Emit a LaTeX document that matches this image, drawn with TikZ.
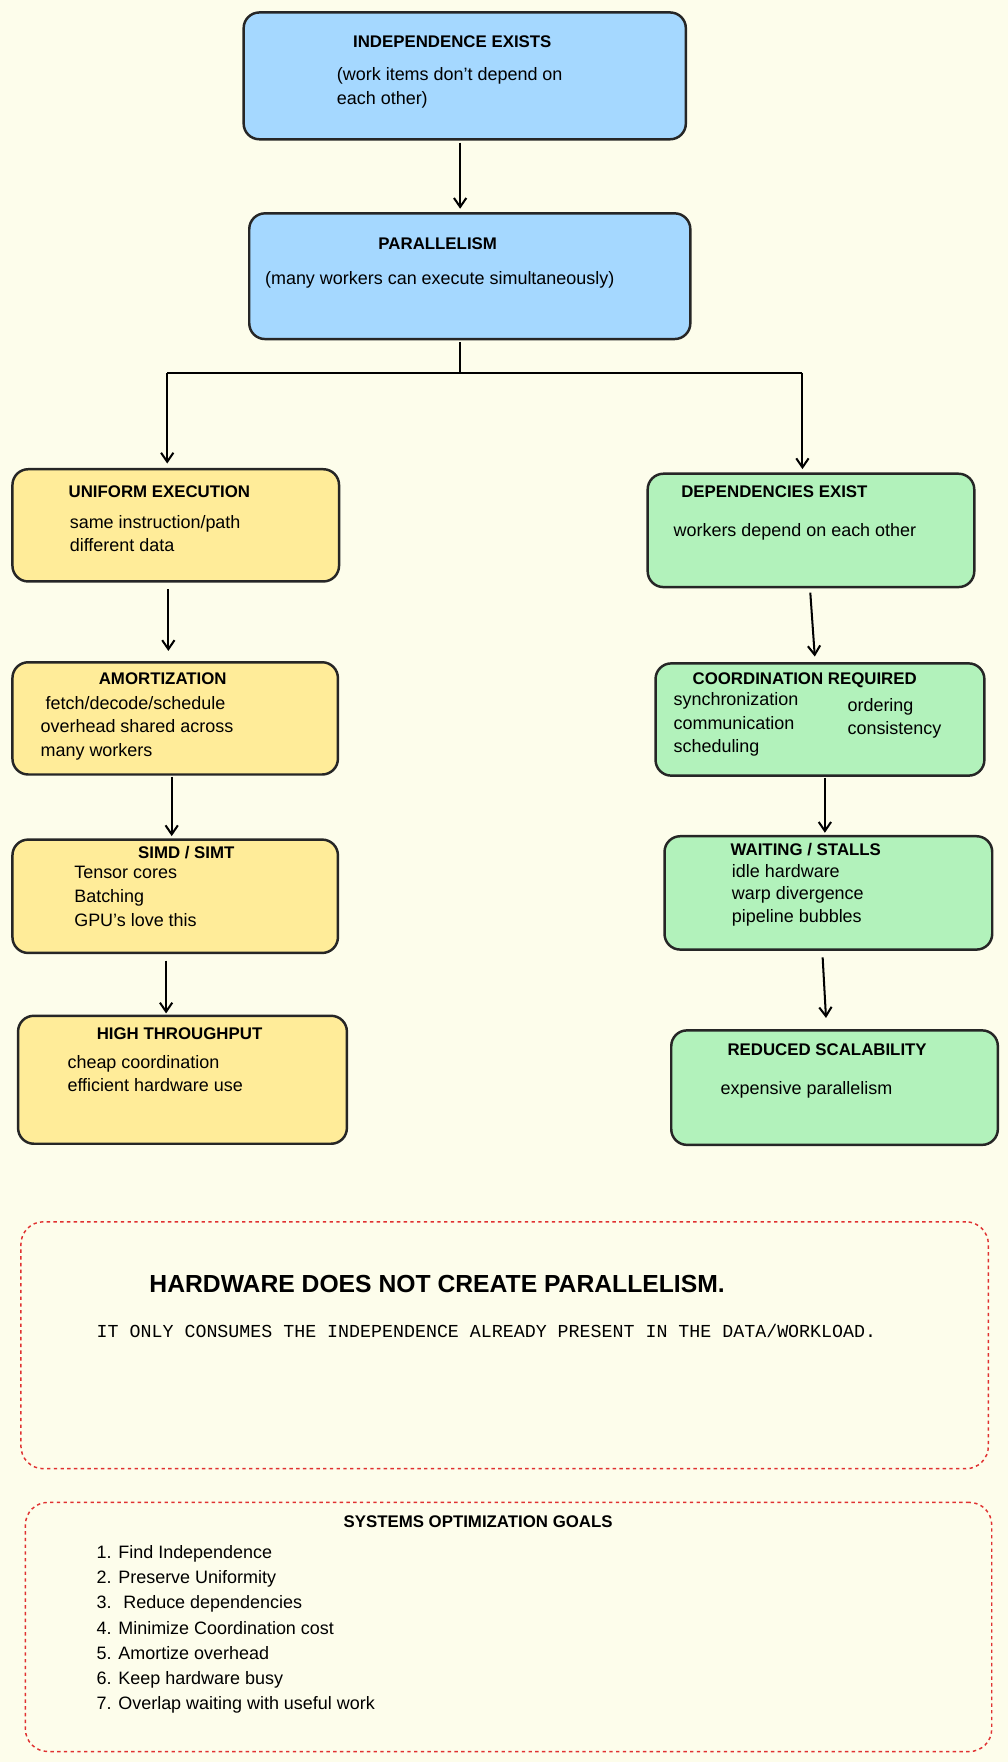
\documentclass[tikz,border=0pt]{standalone}
\usepackage{fontspec}
\setmainfont{Liberation Sans}
\setmonofont{Liberation Mono}
\usetikzlibrary{arrows.meta}
\definecolor{bg}{HTML}{FDFDEB}
\definecolor{bl}{HTML}{A5D8FF}
\definecolor{ye}{HTML}{FFEC99}
\definecolor{gr}{HTML}{B2F2BB}
\definecolor{rd}{HTML}{E03131}
\tikzset{
 box/.style={draw=black!85,line width=2.2pt,rounded corners=14pt,inner sep=0pt,anchor=north west},
 ttl/.style={font=\bfseries\fontsize{15}{18}\selectfont,inner sep=0pt},
 txt/.style={font=\fontsize{16}{21}\selectfont,align=left,inner sep=0pt,anchor=north west},
 arr/.style={line width=1.8pt,-{Straight Barb[length=8pt,width=11pt]}},
 dbox/.style={draw=rd,dashed,line width=1.3pt,rounded corners=20pt,anchor=north west,inner sep=0pt}
}
\newcommand{\bx}[6]{\node[box,fill=#6,minimum width=#3pt-#1pt,minimum height=#4pt-#2pt] (#5) at (#1pt,-#2pt) {};}
\begin{document}
\begin{tikzpicture}[x=1pt,y=1pt]
\fill[bg] (0,0) rectangle (898,-1570);
\useasboundingbox (0,0) rectangle (898,-1570);
\bx{216}{10}{610}{123}{a}{bl}
\node[ttl] (at) at (403,-37) {INDEPENDENCE EXISTS};
\node[txt] (ax) at (300,-60) {(work items don't depend on\\each other)};
\bx{221}{189}{614}{301}{b}{bl}
\node[ttl] (bt) at (390,-217) {PARALLELISM};
\node[txt] (bx) at (236,-242) {(many workers can execute simultaneously)};
\bx{10}{417}{301}{517}{c}{ye}
\node[ttl] (ct) at (142,-438) {UNIFORM EXECUTION};
\node[txt] (cx) at (62,-459) {same instruction/path\\different data};
\bx{10}{589}{300}{689}{d}{ye}
\node[ttl] (dt) at (145,-605) {AMORTIZATION};
\node[txt] (dx) at (36,-620) {\ fetch/decode/schedule\\overhead shared across\\many workers};
\bx{10}{747}{300}{848}{e}{ye}
\node[ttl] (et) at (166,-760) {SIMD / SIMT};
\node[txt] (ex) at (66,-772) {Tensor cores\\Batching\\GPU's love this};
\bx{15}{904}{308}{1018}{f}{ye}
\node[ttl] (ft) at (160,-921) {HIGH THROUGHPUT};
\node[txt] (fx) at (60,-940) {cheap coordination\\ efficient hardware use};
\bx{576}{421}{867}{522}{g}{gr}
\node[ttl] (gt) at (690,-438) {DEPENDENCIES EXIST};
\node[txt] (gx) at (600,-466) {workers depend on each other};
\bx{583}{590}{876}{690}{h}{gr}
\node[ttl] (ht) at (717,-606) {COORDINATION REQUIRED};
\node[txt] (hx) at (600,-617) {synchronization\\communication\\scheduling};
\node[txt] (hy) at (755,-622) {ordering\\consistency};
\bx{591}{744}{883}{845}{i}{gr}
\node[ttl] (it) at (718,-757) {WAITING / STALLS};
\node[txt,font=\fontsize{16}{20}\selectfont] (ix) at (652,-770) {idle hardware\\warp divergence\\pipeline bubbles};
\bx{597}{917}{888}{1019}{j}{gr}
\node[ttl] (jt) at (737,-935) {REDUCED SCALABILITY};
\node[txt] (jx) at (642,-963) {expensive parallelism};
\draw[arr] (410,-127) -- (410,-186);
\coordinate (s0) at (410,-305);
\coordinate (s1) at (410,-332);
\coordinate (sl) at (149,-332);
\coordinate (sr) at (715,-332);
\draw[line width=1.8pt] (s0) -- (s1);
\draw[line width=1.8pt] (sl) -- (sr);
\draw[arr] (sl) -- (149,-413);
\draw[arr] (sr) -- (715,-418);
\draw[arr] (150,-525) -- (150,-580);
\draw[arr] (153,-692) -- (153,-745);
\draw[arr] (148,-856) -- (148,-903);
\draw[arr] (722,-528) -- (726,-585);
\draw[arr] (735,-693) -- (735,-742);
\draw[arr] (733,-853) -- (736,-907);
\node[dbox,minimum width=862pt,minimum height=220pt] (k) at (18,-1088) {};
\node[inner sep=0pt,anchor=west,font=\bfseries\fontsize{22}{26}\selectfont] (kt) at (133,-1144) {HARDWARE DOES NOT CREATE PARALLELISM.};
\node[inner sep=0pt,anchor=west,font=\ttfamily\fontsize{16.3}{19}\selectfont] (kx) at (86,-1186) {IT ONLY CONSUMES THE INDEPENDENCE ALREADY PRESENT IN THE DATA/WORKLOAD.};
\node[dbox,minimum width=861pt,minimum height=222pt] (l) at (22,-1338) {};
\node[ttl] (lt) at (426,-1356) {SYSTEMS OPTIMIZATION GOALS};
\node[txt,font=\fontsize{16}{22.4}\selectfont] (lx) at (86,-1377) {1. Find Independence\\2. Preserve Uniformity\\3. \ Reduce dependencies\\4. Minimize Coordination cost\\5. Amortize overhead\\6. Keep hardware busy\\7. Overlap waiting with useful work};
\end{tikzpicture}
\end{document}
